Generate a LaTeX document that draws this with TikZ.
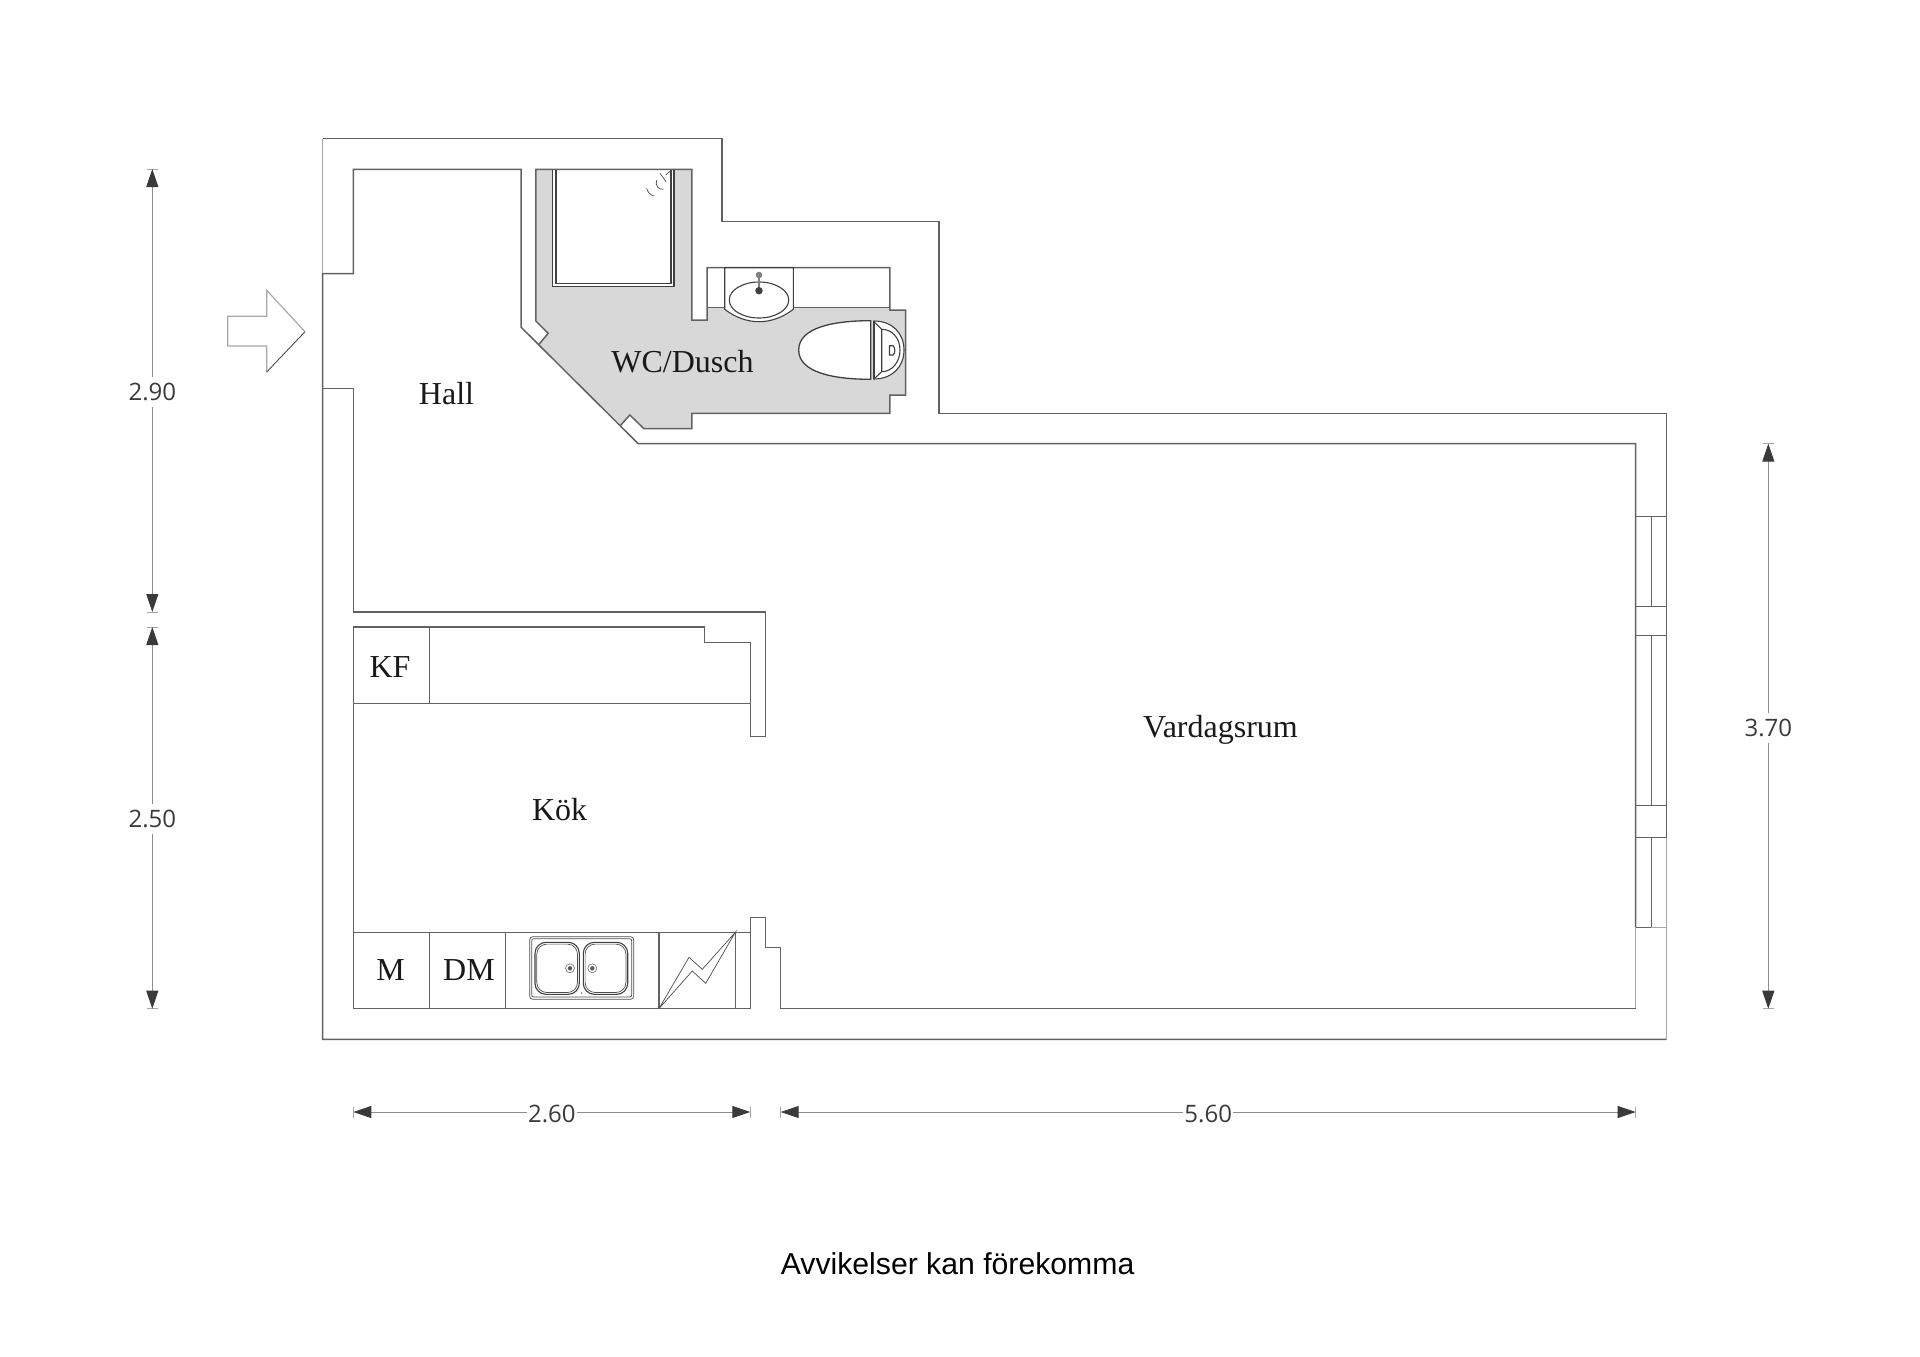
\documentclass[tikz,border=0pt]{standalone}
\usepackage{fontspec}
\setmainfont{Liberation Serif}
\newfontfamily\dimfont{Open Sans}
\newfontfamily\notefont{Liberation Sans}
\usetikzlibrary{arrows.meta}

\definecolor{wallgray}{HTML}{626262}
\definecolor{lightwall}{HTML}{A8A8A8}
\definecolor{wetfloor}{HTML}{D8D8D8}
\definecolor{dimgray}{HTML}{8C8C8C}
\definecolor{dimdark}{HTML}{3A3A3A}

\tikzset{
	wall/.style={draw=wallgray,line width=1.5pt,line join=miter},
	lightline/.style={draw=lightwall,line width=1.2pt},
	fixture/.style={draw=black!75,line width=1.1pt},
	thinfix/.style={draw=black!70,line width=.7pt},
	dimline/.style={draw=dimgray,line width=1pt,{Triangle[length=18pt,width=12pt,color=dimdark]}-{Triangle[length=18pt,width=12pt,color=dimdark]}},
	dimtick/.style={draw=lightwall,line width=1pt},
	dimlabel/.style={fill=white,text=dimdark,inner sep=1pt,inner ysep=6pt,yshift=-1.5pt,font=\dimfont\fontsize{24}{24}\selectfont},
	roomlabel/.style={inner sep=0pt,text=black!90,font=\fontsize{32}{32}\selectfont},
}

\begin{document}
\begin{tikzpicture}[x=1pt,y=-1pt]
	\useasboundingbox (0,0) rectangle (1920,1357);

	% wet room floor
	\fill[wetfloor] (535.9,169.3) -- (691.8,169.3) -- (691.8,320) -- (707,320) -- (707,307.3) -- (889.8,307.3) -- (889.8,310) -- (905.7,310) -- (905.7,395) -- (889.8,395) -- (889.8,413.3) -- (691.8,413.3) -- (691.8,428.7) -- (644,428.7) -- (629.8,415) -- (620.4,425.5) -- (538.8,344.5) -- (548.2,333.3) -- (535.9,321) -- cycle;

	% shower
	\draw[fixture,fill=white] (552.7,169.3) -- (552.7,286.3) -- (674,286.3) -- (674,169.3);
	\draw[fixture] (556,169.3) -- (556,283.3) -- (671,283.3) -- (671,169.3);
	\draw[thinfix] (646.7,188.3) .. controls (647.5,192) and (650,195) .. (654,196);
	\draw[thinfix] (656.7,180) .. controls (655,185) and (658,190) .. (663.3,189.3);
	\draw[thinfix] (660,173.3) -- (666,181.7);
	\draw[thinfix] (665.7,175) -- (671.5,170);

	% outer walls
	\draw[lightline] (322.7,138.7) -- (322.7,273.7);
	\draw[wall] (322.7,138.7) -- (722,138.7) -- (722,221.7) -- (938.8,221.7) -- (938.8,413.3) -- (1666.5,413.3) -- (1666.5,837.3);
	\draw[lightline] (1666.5,837.3) -- (1666.5,1039.3);
	\draw[wall] (1666.5,1039.3) -- (322.7,1039.3) -- (322.7,273.7) -- (353.3,273.7) -- (353.3,169.3) -- (521.2,169.3) -- (521.2,327.3) -- (638,443.5) -- (1635.7,443.5) -- (1635.7,927.3);
	\draw[lightline] (1635.7,927.3) -- (1635.7,1008.5);
	\draw[wall] (1635.7,1008.5) -- (780.7,1008.5) -- (780.7,947.7) -- (765.7,947.7) -- (765.7,917.3) -- (750.3,917.3) -- (750.3,1008.5) -- (353.3,1008.5) -- (353.3,627) -- (704.3,627) -- (704.3,642.3) -- (750.3,642.3) -- (750.3,736.3) -- (765.7,736.3) -- (765.7,612) -- (353.3,612) -- (353.3,388.7) -- (322.7,388.7);

	% wet room walls
	\draw[wall] (538.8,344.5) -- (548.2,333.3) -- (535.9,321) -- (535.9,169.3) -- (691.8,169.3) -- (691.8,320) -- (707,320) -- (707,267.5) -- (889.8,267.5) -- (889.8,310) -- (905.7,310) -- (905.7,395) -- (889.8,395) -- (889.8,413.3) -- (691.8,413.3) -- (691.8,428.7) -- (644,428.7) -- (629.8,415) -- (620.4,425.5);
	\draw[wall] (707,307.3) -- (889.8,307.3);

	% windows
	\foreach \wy in {516.7,606.3,635.3,805.7,837.3}
		\draw[wall] (1635.7,\wy) -- (1666.5,\wy);
	\draw[wall] (1635.7,927.3) -- (1651.3,927.3);
	\draw[lightline] (1651.3,927.3) -- (1666.5,927.3);
	\foreach \wa/\wb in {516.7/606.3,635.3/805.7,837.3/927.3}
		\draw[wall] (1651.3,\wa) -- (1651.3,\wb);

	% wash basin
	\draw[fixture,fill=white] (724.7,267.7) -- (793.3,267.7) -- (793.3,309.3) .. controls (782,318) and (770,321.7) .. (759,321.7) .. controls (748,321.7) and (736,318) .. (724.7,309.3) -- cycle;
	\draw[fixture] (759,300) ellipse (29.7 and 18);
	\draw[draw=gray,line width=1.5pt] (759,275) -- (759,290);
	\fill[gray] (759,275) circle (3.3);
	\fill[black!75] (759,290.7) circle (3.7);

	% toilet
	\draw[fixture,fill=white] (874,321) .. controls (892,321) and (904,333) .. (904,350) .. controls (904,367) and (892,379) .. (874,379) -- cycle;
	\draw[fixture,fill=white,line width=1.3pt] (870.7,320.7) .. controls (832,320.7) and (798.7,328) .. (798.7,350) .. controls (798.7,372) and (832,379.3) .. (870.7,379.3) -- cycle;
	\draw[fixture] (874,321) -- (874,379);
	\draw[fixture] (875,322.7) -- (881.7,329.3) -- (881.7,371.7) -- (875,378);
	\draw[fixture] (881.7,329.3) .. controls (892,329.3) and (900,338) .. (900,350) .. controls (900,362) and (892,371.7) .. (881.7,371.7);
	\draw[fixture] (889.5,345.7) -- (893,345.7) .. controls (895.5,348) and (895.5,353) .. (893,355) -- (889.5,355) -- cycle;

	% kitchen units
	\foreach \ux in {429.7,505.7,659,735.3}
		\draw[wall] (\ux,932.3) -- (\ux,1008.5);
	\draw[wall] (353.3,932.3) -- (750.3,932.3);
	\draw[wall] (353.3,703.3) -- (750.3,703.3);
	\draw[wall] (429.7,627) -- (429.7,703.3);

	% kitchen sink
	\draw[thinfix,rounded corners=3pt] (529.7,936.7) rectangle (633.7,999.3);
	\draw[thinfix,rounded corners=2pt] (531.7,938.7) rectangle (631.7,997);
	\foreach \sx/\sy in {535/579.3,583.3/627.7} {
		\draw[fixture,rounded corners=11pt] (\sx,942.3) rectangle (\sy,994.3);
		\draw[thinfix,rounded corners=10pt] (\sx+1.8,944.1) rectangle (\sy-1.8,992.5);
	}
	\foreach \dx in {570,592.3} {
		\draw[thinfix,draw=gray] (\dx,968.3) circle (4.5);
		\fill[black!65] (\dx,968.3) circle (2.2);
	}
	\fill[black!60] (581.7,993) circle (.8) (588.3,992.3) circle (.8);

	% hob
	\draw[thinfix] (659,1008.5) -- (689,957.3) -- (702.3,969.3) -- (735.3,932.3) -- (705.7,983.3) -- (692.3,971) -- cycle;

	% entrance arrow
	\draw[draw=lightwall,line width=1.2pt] (305,331.7) -- (266.7,290.3) -- (266.7,316.3) -- (227.7,316.3) -- (227.7,346) -- (266.7,346) -- (266.7,372);
	\draw[draw=black!70,line width=.9pt] (266.7,372) -- (305,331.7);

	% room names
	\node[roomlabel] (hall) at (446.5,394) {Hall};
	\node[roomlabel] (wcdusch) at (682.5,362) {WC/Dusch};
	\node[roomlabel] (vardagsrum) at (1220.5,729.5) {Vardagsrum};
	\node[roomlabel] (kok) at (559.6,809.6) {Kök};
	\node[roomlabel] (kf) at (390,667) {KF};
	\node[roomlabel] (m) at (390.6,970.5) {M};
	\node[roomlabel] (dm) at (469,970.5) {DM};

	% dimensions
	\coordinate (hallT) at (152.3,169);
	\coordinate (hallB) at (152.3,612);
	\coordinate (kokT) at (152.3,627);
	\coordinate (kokB) at (152.3,1008.7);
	\coordinate (roomT) at (1768.3,443.7);
	\coordinate (roomB) at (1768.3,1008.7);
	\coordinate (kokL) at (353.3,1112);
	\coordinate (kokR) at (750.3,1112);
	\coordinate (roomL) at (780.7,1112);
	\coordinate (roomR) at (1635.7,1112);

	\foreach \p in {hallT,hallB,kokT,kokB,roomT,roomB}
		\draw[dimtick] (\p) +(-5.5,0) -- +(5.5,0);
	\foreach \p in {kokL,kokR,roomL,roomR}
		\draw[dimtick] (\p) +(0,-5.5) -- +(0,5.5);

	\draw[dimline] (hallT) -- node[dimlabel] {2.90} (hallB);
	\draw[dimline] (kokT) -- node[dimlabel] {2.50} (kokB);
	\draw[dimline] (roomT) -- node[dimlabel] {3.70} (roomB);
	\draw[dimline] (kokL) -- node[dimlabel] {2.60} (kokR);
	\draw[dimline] (roomL) -- node[dimlabel] {5.60} (roomR);

	\node[inner sep=0pt,font=\notefont\fontsize{30.2}{30.2}\selectfont] (note) at (957.6,1264) {Avvikelser kan förekomma};
\end{tikzpicture}
\end{document}
